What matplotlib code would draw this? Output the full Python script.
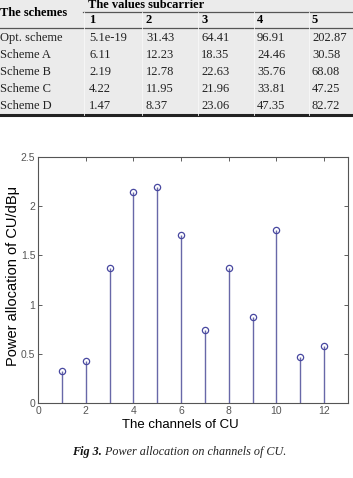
import numpy as np
import matplotlib.pyplot as plt

# table data
schemes = ["Opt. scheme", "Scheme A", "Scheme B", "Scheme C", "Scheme D"]
sub_cols = ["1", "2", "3", "4", "5"]
opt_vals = ["5.1e-19", "31.43", "64.41", "96.91", "202.87"]
a_vals = ["6.11", "12.23", "18.35", "24.46", "30.58"]
b_vals = ["2.19", "12.78", "22.63", "35.76", "68.08"]
c_vals = ["4.22", "11.95", "21.96", "33.81", "47.25"]
d_vals = ["1.47", "8.37", "23.06", "47.35", "82.72"]
rows = [opt_vals, a_vals, b_vals, c_vals, d_vals]

# stem data
channels = np.arange(1, 13)
power = [0.33, 0.43, 1.37, 2.14, 2.20, 1.71, 0.74, 1.37, 0.87, 1.76, 0.47, 0.58]

W, H = 353, 478
fig = plt.figure(figsize=(W / 100, H / 100), dpi=100)

serif = ["Liberation Serif", "DejaVu Serif"]
sans = ["Liberation Sans", "DejaVu Sans"]

# --- table drawn in pixel coords
tab = fig.add_axes([0, 1 - 120 / H, 1, 120 / H])
tab.set_xlim(0, W)
tab.set_ylim(120, 0)
tab.axis("off")
tab.axhspan(0, 115, color="#ebebeb", zorder=0)
tab.plot([83, W], [11.5, 11.5], color="#555555", lw=0.9)
tab.plot([0, W], [27.5, 27.5], color="#555555", lw=0.9)
tab.plot([0, W], [115, 115], color="#222222", lw=2.2)
for xv in [84, 142, 198, 254, 309]:
    tab.plot([xv, xv], [12, 115], color="#f7f7f7", lw=0.6)

col_x = [89, 146, 201, 257, 312]
tab.text(0, 13, "The schemes", family=serif, fontsize=9, fontweight="bold",
         va="center", ha="left")
tab.text(88, 5, "The values subcarrier", family=serif, fontsize=9,
         fontweight="bold", va="center", ha="left")
for xv, c in zip(col_x, sub_cols):
    tab.text(xv, 20, c, family=serif, fontsize=9, fontweight="bold",
             va="center", ha="left")
row_y = [38, 55, 72, 89, 106]
for yv, name, vals in zip(row_y, schemes, rows):
    tab.text(0, yv, name, family=serif, fontsize=9, va="center", ha="left",
             color="#222222")
    for xv, v in zip(col_x, vals):
        tab.text(xv, yv, v, family=serif, fontsize=9, va="center", ha="left",
                 color="#222222")

# --- stem plot
ax = fig.add_axes([38 / W, 1 - 403 / H, 310 / W, 246 / H])
ml, sl, bl = ax.stem(channels, power, basefmt=" ")
plt.setp(sl, color="#6868a8", lw=1.0)
plt.setp(ml, marker="o", markersize=4.5, markerfacecolor="none",
         markeredgecolor="#4848a0", markeredgewidth=0.9)
ax.set_xlim(0, 13)
ax.set_ylim(0, 2.5)
ax.set_xticks(np.arange(0, 13, 2))
ax.set_yticks([0, 0.5, 1, 1.5, 2, 2.5])
ax.set_yticklabels(["0", "0.5", "1", "1.5", "2", "2.5"])
ax.tick_params(direction="in", top=True, right=True, length=3, width=0.6,
               labelsize=7.5, labelcolor="#555555", color="#444444", pad=2)
for s in ax.spines.values():
    s.set_color("#555555")
    s.set_linewidth(0.8)
for lab in ax.get_xticklabels() + ax.get_yticklabels():
    lab.set_family(sans)

fig.text(180 / W, 1 - 425 / H, "The channels of CU", family=sans,
         fontsize=9.5, ha="center", va="center")
fig.text(13 / W, 1 - 276 / H, "Power allocation of CU/dBμ", family=sans,
         fontsize=10.5, rotation=90, ha="center", va="center")

# caption: bold-italic label followed by italic text
cy = 1 - 452 / H
t1 = fig.text(72 / W, cy, "Fig 3.", family=serif, fontsize=8.7,
              fontweight="bold", style="italic", ha="left", va="center",
              color="#111111")
r = fig.canvas.get_renderer()
x_end = t1.get_window_extent(r).x1
fig.text(x_end / W, cy, " Power allocation on channels of CU.",
         family=serif, fontsize=8.7, style="italic", ha="left", va="center",
         color="#222222")

fig.savefig("out.png", dpi=100)
